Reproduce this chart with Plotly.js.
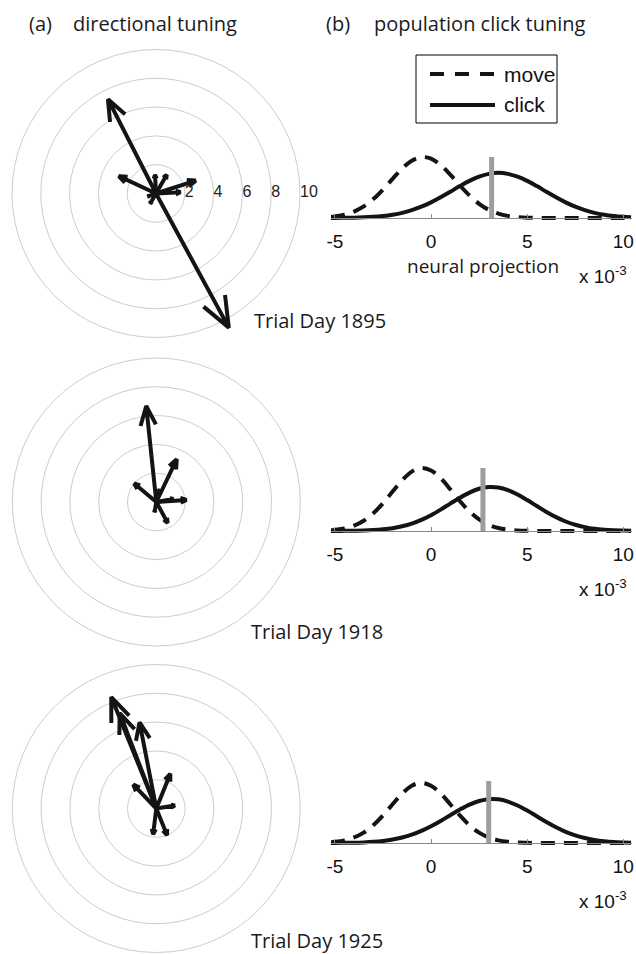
<!DOCTYPE html>
<html><head><meta charset="utf-8">
<script src="https://cdn.plot.ly/plotly-3.0.1.min.js"></script>
<style>html,body{margin:0;padding:0;background:#fff}#chart{width:636px;height:954px}</style>
</head><body><div id="chart"></div>
<script>
// ---------- data ----------
const dayLabels = ['Trial Day 1895', 'Trial Day 1918', 'Trial Day 1925'];

// (a) directional tuning: compass arrows (magnitude, direction in degrees)
const arrowR1895 = [7.35, 10.6, 2.85, 2.9, 1.3, 1.5, 1.7, 0.8, 0.6];
const arrowTheta1895 = [117, 298.5, 155, 18, 93, 60, 3, 240, 200];
const arrowR1918 = [6.7, 3.3, 2.0, 2.1, 1.65, 1.2, 0.9, 0.7];
const arrowTheta1918 = [96, 64.5, 140, 4, 298.5, 10, 75, 260];
const arrowR1925 = [8.35, 7.1, 6.1, 2.3, 2.6, 1.3, 1.8, 2.0];
const arrowTheta1925 = [112, 111, 101, 134, 68, 9, 263, 292];
const radialTicks = [2, 4, 6, 8, 10];

// (b) population click tuning: neural projection (x 10^-3) and densities
const projX = [-5.2, -5, -4.5, -4, -3.5, -3, -2.5, -2, -1.5, -1, -0.5, 0, 0.5, 1, 1.5, 2, 2.5, 3, 3.5, 4, 4.5, 5, 5.5, 6, 6.5, 7, 7.5, 8, 8.5, 9, 9.5, 10, 10.4];
const move1895 = [0.018, 0.026, 0.055, 0.106, 0.19, 0.31, 0.466, 0.642, 0.811, 0.94, 0.998, 0.973, 0.869, 0.712, 0.535, 0.369, 0.233, 0.135, 0.072, 0.035, 0.016, 0.006, 0.003, 0.001, 0, 0, 0, 0, 0, 0, 0, 0, 0];
const click1895 = [0.001, 0.001, 0.003, 0.006, 0.011, 0.019, 0.033, 0.054, 0.084, 0.128, 0.185, 0.256, 0.339, 0.430, 0.523, 0.609, 0.678, 0.724, 0.740, 0.724, 0.678, 0.609, 0.523, 0.430, 0.339, 0.256, 0.185, 0.128, 0.084, 0.054, 0.033, 0.019, 0.012];
const move1918 = [0.012, 0.018, 0.041, 0.085, 0.163, 0.281, 0.440, 0.626, 0.806, 0.943, 1.0, 0.961, 0.838, 0.663, 0.476, 0.310, 0.183, 0.098, 0.048, 0.021, 0.008, 0.003, 0.001, 0, 0, 0, 0, 0, 0, 0, 0, 0, 0];
const click1918 = [0.000, 0.001, 0.002, 0.004, 0.007, 0.014, 0.026, 0.045, 0.075, 0.118, 0.177, 0.251, 0.339, 0.434, 0.528, 0.610, 0.670, 0.698, 0.691, 0.650, 0.580, 0.491, 0.396, 0.302, 0.220, 0.151, 0.099, 0.062, 0.036, 0.020, 0.011, 0.006, 0.003];
const move1925 = [0.013, 0.019, 0.043, 0.089, 0.167, 0.286, 0.444, 0.625, 0.798, 0.924, 0.970, 0.924, 0.798, 0.625, 0.444, 0.286, 0.167, 0.089, 0.043, 0.019, 0.007, 0.003, 0.001, 0, 0, 0, 0, 0, 0, 0, 0, 0, 0];
const click1925 = [0.001, 0.001, 0.003, 0.005, 0.010, 0.019, 0.033, 0.055, 0.088, 0.134, 0.195, 0.270, 0.356, 0.449, 0.540, 0.620, 0.678, 0.707, 0.704, 0.668, 0.605, 0.523, 0.431, 0.338, 0.254, 0.181, 0.124, 0.080, 0.050, 0.030, 0.017, 0.009, 0.005];
const clickThreshold = [3.15, 2.7, 3.0];
const thresholdTop = 1.0;
const xTickVals = [-5, 0, 5, 10];
const xTickText = ['-5', '0', '5', '10'];
const legendNames = ['move', 'click'];

// ---------- layout helpers ----------
const W = 636, H = 954;
const px2x = p => p / W;
const px2y = p => 1 - p / H;
const MYRIAD = '"Open Sans", "Noto Sans", sans-serif';
const ARIAL = '"Liberation Sans", Arial, sans-serif';
const INK = '#141414';
const RING = '#cdcdcd';

// MATLAB compass style arrow head: 20% of length, half width 8%
function compass(rs, ths) {
  const hr = Math.hypot(0.8, 0.08), ha = Math.atan2(0.08, 0.8) * 180 / Math.PI;
  const R = [], T = [];
  rs.forEach((r, i) => {
    const t = ths[i];
    R.push(0, r, r * hr, r, r * hr, null);
    T.push(t, t, t + ha, t, t - ha, null);
  });
  return { r: R, theta: T };
}

const arrowsR = [arrowR1895, arrowR1918, arrowR1925];
const arrowsT = [arrowTheta1895, arrowTheta1918, arrowTheta1925];
const moves = [move1895, move1918, move1925];
const clicks = [click1895, click1918, click1925];

const pxPerUnit = 14.4;
const polarGeo = [
  { cx: 156, cy: 193.5, rmax: 10.8, edge: false },
  { cx: 156.3, cy: 502, rmax: 10, edge: true },
  { cx: 156.3, cy: 808.5, rmax: 10, edge: true }
];
const lineGeo = [
  { base: 218, top: 157 },
  { base: 531, top: 468 },
  { base: 843, top: 781 }
];
const xDomPx = [331, 632];
const xRange = [-5.2, 10.45];
const yPad = 0.05;

const traces = [];
const layout = {
  width: W, height: H,
  margin: { l: 0, r: 0, t: 0, b: 0 },
  paper_bgcolor: '#fff', plot_bgcolor: 'rgba(0,0,0,0)',
  showlegend: false,
  shapes: [], annotations: []
};

for (let i = 0; i < 3; i++) {
  const pk = i === 0 ? 'polar' : 'polar' + (i + 1);
  const g = polarGeo[i];
  const R = g.rmax * pxPerUnit;
  layout[pk] = {
    domain: { x: [px2x(g.cx - R), px2x(g.cx + R)], y: [px2y(g.cy + R), px2y(g.cy - R)] },
    bgcolor: 'rgba(0,0,0,0)',
    radialaxis: { range: [0, g.rmax], tickvals: radialTicks, showticklabels: false, ticks: '',
      showline: false, gridcolor: RING, gridwidth: 1 },
    angularaxis: { showgrid: false, showline: g.edge, linecolor: RING, linewidth: 1,
      showticklabels: false, ticks: '' }
  };
  const c = compass(arrowsR[i], arrowsT[i]);
  traces.push({ type: 'scatterpolar', subplot: pk, mode: 'lines', r: c.r, theta: c.theta,
    line: { color: INK, width: 4 }, hoverinfo: 'skip' });

  // line plots
  const xa = i === 0 ? 'xaxis' : 'xaxis' + (i + 1);
  const ya = i === 0 ? 'yaxis' : 'yaxis' + (i + 1);
  const xr = i === 0 ? 'x' : 'x' + (i + 1);
  const yr = i === 0 ? 'y' : 'y' + (i + 1);
  const lg = lineGeo[i];
  const u = lg.base - lg.top;
  layout[ya] = { domain: [px2y(lg.base + yPad * u), px2y(lg.top - yPad * u)], range: [-yPad, 1 + yPad],
    visible: false, fixedrange: true };
  layout[xa] = { domain: [px2x(xDomPx[0]), px2x(xDomPx[1])], range: xRange, anchor: 'free',
    position: px2y(lg.base), showline: true, linecolor: '#8a8a8a', linewidth: 1,
    ticks: 'inside', ticklen: 4, tickwidth: 1, tickcolor: '#8a8a8a',
    tickvals: xTickVals, ticktext: xTickText, ticklabelstandoff: 6,
    tickfont: { family: ARIAL, size: 19, color: '#111' },
    showgrid: false, zeroline: false, fixedrange: true };
  traces.push({ type: 'scatter', xaxis: xr, yaxis: yr, x: projX, y: moves[i], mode: 'lines',
    name: legendNames[0], line: { color: INK, width: 4, dash: '14px,9px', shape: 'spline' }, hoverinfo: 'skip' });
  traces.push({ type: 'scatter', xaxis: xr, yaxis: yr, x: projX, y: clicks[i], mode: 'lines',
    name: legendNames[1], line: { color: INK, width: 4, shape: 'spline' }, hoverinfo: 'skip' });
  traces.push({ type: 'scatter', xaxis: xr, yaxis: yr, x: [clickThreshold[i], clickThreshold[i]], y: [0, thresholdTop],
    mode: 'lines', line: { color: '#9d9d9d', width: 5 }, hoverinfo: 'skip' });

  // x 10^-3 label
  layout.annotations.push({ xref: 'paper', yref: 'paper', x: px2x(577), y: px2y(lg.base + 57),
    xanchor: 'left', yanchor: 'middle', showarrow: false, text: 'x 10<sup>-3</sup>',
    font: { family: ARIAL, size: 19, color: '#111' } });
}

// radial tick labels on first compass
traces.push({ type: 'scatterpolar', subplot: 'polar', mode: 'text', r: radialTicks,
  theta: radialTicks.map(() => 0), text: radialTicks.map(String), textposition: 'middle right',
  textfont: { family: ARIAL, size: 16, color: '#222' }, cliponaxis: false, hoverinfo: 'skip' });

// titles and labels
function note(text, x, y, xanchor, font) {
  layout.annotations.push({ xref: 'paper', yref: 'paper', x: px2x(x), y: px2y(y), xanchor: xanchor,
    yanchor: 'middle', showarrow: false, text: text, font: font });
}
const titleFont = { family: MYRIAD, size: 20, color: '#1a1a1a' };
note('(a)', 27, 24, 'left', titleFont);
note('directional tuning', 71, 24, 'left', titleFont);
note('(b)', 324, 24, 'left', titleFont);
note('population click tuning', 372, 24, 'left', titleFont);
note(dayLabels[0], 252, 320, 'left', titleFont);
note(dayLabels[1], 249, 631, 'left', titleFont);
note(dayLabels[2], 249, 940, 'left', titleFont);
note('neural projection', 483, 266, 'center', { family: MYRIAD, size: 19, color: '#1a1a1a' });

// legend box (drawn like the original MATLAB legend)
layout.shapes.push({ type: 'rect', xref: 'paper', yref: 'paper', x0: px2x(416), x1: px2x(557), y0: px2y(123), y1: px2y(55),
  line: { color: '#000', width: 1 }, fillcolor: '#fff' });
layout.shapes.push({ type: 'line', xref: 'paper', yref: 'paper', x0: px2x(430), x1: px2x(495), y0: px2y(74), y1: px2y(74),
  line: { color: INK, width: 4, dash: '14px,11px' } });
layout.shapes.push({ type: 'line', xref: 'paper', yref: 'paper', x0: px2x(430), x1: px2x(495), y0: px2y(105), y1: px2y(105),
  line: { color: INK, width: 4 } });
note(legendNames[0], 502, 74, 'left', { family: ARIAL, size: 21, color: '#111' });
note(legendNames[1], 502, 105, 'left', { family: ARIAL, size: 21, color: '#111' });

Plotly.newPlot('chart', traces, layout, { staticPlot: true, displayModeBar: false });
</script>
</body></html>
